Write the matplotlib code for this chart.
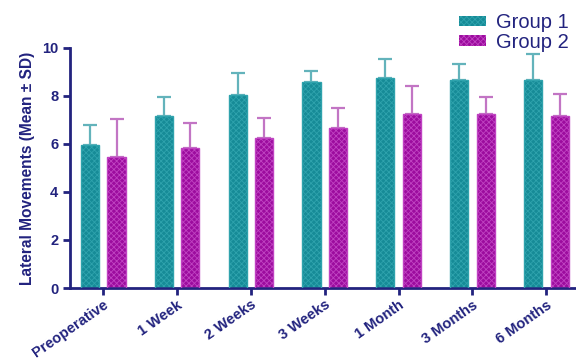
import matplotlib
matplotlib.use('Agg')
import matplotlib.pyplot as plt
import numpy as np

# values
timepoints = ['Preoperative', '1 Week', '2 Weeks', '3 Weeks', '1 Month', '3 Months', '6 Months']
group1_mean = [5.96, 7.17, 8.04, 8.57, 8.75, 8.65, 8.65]
group1_sd = [0.83, 0.79, 0.91, 0.49, 0.79, 0.68, 1.08]
group2_mean = [5.47, 5.85, 6.26, 6.65, 7.25, 7.25, 7.17]
group2_sd = [1.57, 1.03, 0.83, 0.84, 1.17, 0.70, 0.93]

NAVY = '#22237e'
TEAL = '#168b97'
TEAL_HATCH = '#2fa3ad'
TEAL_ERR = '#63b3bb'
MAGENTA = '#9c0c9e'
MAGENTA_HATCH = '#c043c2'
MAGENTA_ERR = '#c275c4'

plt.rcParams['font.family'] = ['Liberation Sans', 'DejaVu Sans']
plt.rcParams['hatch.linewidth'] = 0.6

fig = plt.figure(figsize=(5.76, 3.6), dpi=100)
ax = fig.add_axes([0.1215, 0.2, 0.877, 0.6667])

x = np.arange(len(timepoints))
width = 0.245
offset = 0.18

for means, sds, pos, fc, hc, ec, label in [
    (group1_mean, group1_sd, x - offset, TEAL, TEAL_HATCH, TEAL_ERR, 'Group 1'),
    (group2_mean, group2_sd, x + offset, MAGENTA, MAGENTA_HATCH, MAGENTA_ERR, 'Group 2'),
]:
    ax.bar(pos, means, width, color=fc, edgecolor=hc, linewidth=0, hatch='xxxxxx',
           label=label, zorder=2)
    ax.bar(pos, means, width, fill=False, edgecolor=hc, linewidth=1.0, zorder=3)
    ax.errorbar(pos, means, yerr=[np.zeros(len(sds)), sds], fmt='none',
                ecolor=ec, elinewidth=1.6, capsize=5, capthick=1.6, zorder=1)

ax.set_ylim(0, 10)
ax.set_xlim(-0.45, 6.39)
ax.set_yticks([0, 2, 4, 6, 8, 10])
ax.set_xticks(x)
ax.set_xticklabels(timepoints, rotation=35, ha='right', rotation_mode='anchor')

for side in ['top', 'right']:
    ax.spines[side].set_visible(False)
for side in ['left', 'bottom']:
    ax.spines[side].set_color(NAVY)
    ax.spines[side].set_linewidth(2)

ax.tick_params(axis='both', colors=NAVY, width=2, length=5, labelsize=10.5)
ax.tick_params(axis='x', pad=2)
for lbl in ax.get_xticklabels() + ax.get_yticklabels():
    lbl.set_fontweight('bold')
    lbl.set_color(NAVY)

ax.set_ylabel('Lateral Movements (Mean \u00b1 SD)', color=NAVY, fontsize=11.2,
              fontweight='bold', labelpad=5)

leg = ax.legend(loc='upper right', bbox_to_anchor=(1.012, 1.195), frameon=False,
                fontsize=14.5, handlelength=1.35, handleheight=0.42,
                labelspacing=0.02, handletextpad=0.5, borderpad=0.1)
for t in leg.get_texts():
    t.set_color(NAVY)

fig.savefig('out.png', dpi=100)
